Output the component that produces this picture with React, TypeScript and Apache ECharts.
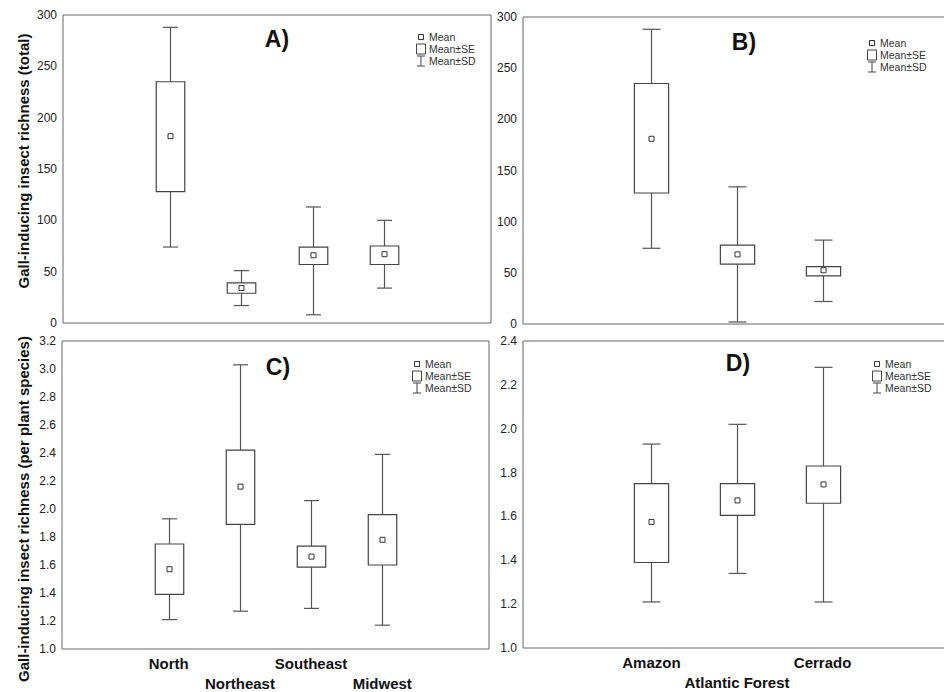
import React, { useEffect, useRef } from "react";
import * as echarts from "echarts";

// Categories (blank slots pad the category axes like the original figure)
const regionCats = ["", "North", "Northeast", "Southeast", "Midwest", ""];
const biomeCats = ["", "Amazon", "Atlantic Forest", "Cerrado", ""];

// Each row: [mean - SD, mean - SE, mean, mean + SE, mean + SD]
const totalByRegion = [
  [74, 128, 182, 235, 288],
  [17, 29, 34, 39, 51],
  [8, 57, 66, 74, 113],
  [34, 57, 67, 75, 100],
];
const totalByBiome = [
  [74, 128, 181, 235, 288],
  [2, 58.5, 68, 77, 134],
  [22, 47, 52.5, 56, 82],
];
const perPlantByRegion = [
  [1.21, 1.39, 1.57, 1.75, 1.93],
  [1.27, 1.89, 2.16, 2.42, 3.03],
  [1.29, 1.585, 1.66, 1.735, 2.06],
  [1.17, 1.6, 1.78, 1.96, 2.39],
];
const perPlantByBiome = [
  [1.21, 1.39, 1.575, 1.75, 1.93],
  [1.34, 1.605, 1.673, 1.75, 2.02],
  [1.21, 1.66, 1.746, 1.83, 2.28],
];

const panelLabels = ["A)", "B)", "C)", "D)"];
const legendTexts = ["Mean", "Mean±SE", "Mean±SD"];
const yTitleTotal = "Gall-inducing insect richness (total)";
const yTitlePerPlant = "Gall-inducing insect richness (per plant species)";

const FONT = "'Liberation Sans', Arial, sans-serif";
const LINE = "#555";

function renderBox(params: any, api: any) {
  const x = api.value(0);
  const pSdLo = api.coord([x, api.value(1)]);
  const ySeLo = api.coord([x, api.value(2)])[1];
  const yMean = api.coord([x, api.value(3)])[1];
  const ySeHi = api.coord([x, api.value(4)])[1];
  const ySdHi = api.coord([x, api.value(5)])[1];
  const cx = Math.round(pSdLo[0]) + 0.5;
  const ySdLo = pSdLo[1];
  const slot = api.size([1, 0])[0];
  const bw = slot * 0.4;
  const cw = slot * 0.21;
  const ls = { stroke: LINE, lineWidth: 1.2 };
  return {
    type: "group",
    children: [
      { type: "line", shape: { x1: cx, y1: ySdHi, x2: cx, y2: ySeHi }, style: ls },
      { type: "line", shape: { x1: cx, y1: ySeLo, x2: cx, y2: ySdLo }, style: ls },
      { type: "line", shape: { x1: cx - cw / 2, y1: ySdHi, x2: cx + cw / 2, y2: ySdHi }, style: ls },
      { type: "line", shape: { x1: cx - cw / 2, y1: ySdLo, x2: cx + cw / 2, y2: ySdLo }, style: ls },
      {
        type: "rect",
        shape: { x: cx - bw / 2, y: ySeHi, width: bw, height: ySeLo - ySeHi },
        style: { fill: "#fff", stroke: "#444", lineWidth: 1.2 },
      },
      {
        type: "rect",
        shape: { x: cx - 2.5, y: yMean - 2.5, width: 5, height: 5 },
        style: { fill: "#fff", stroke: "#333", lineWidth: 1 },
      },
    ],
  };
}

function toSeriesData(rows: number[][]) {
  return rows.map((r, i) => [i + 1, ...r]);
}

function legend(mx: number, my: number) {
  const tx = mx + 8;
  const ts = { fill: "#333", font: `10.5px ${FONT}`, textVerticalAlign: "middle" };
  return [
    { type: "rect", shape: { x: mx - 2.5, y: my - 2.5, width: 5, height: 5 }, style: { fill: "#fff", stroke: "#333", lineWidth: 1 } },
    { type: "text", x: tx, y: my, style: { ...ts, text: legendTexts[0] } },
    { type: "rect", shape: { x: mx - 4.5, y: my + 7, width: 9, height: 10 }, style: { fill: "#fff", stroke: "#444", lineWidth: 1 } },
    { type: "text", x: tx, y: my + 12, style: { ...ts, text: legendTexts[1] } },
    { type: "line", shape: { x1: mx, y1: my + 19, x2: mx, y2: my + 29 }, style: { stroke: "#444", lineWidth: 1 } },
    { type: "line", shape: { x1: mx - 4, y1: my + 19, x2: mx + 4, y2: my + 19 }, style: { stroke: "#444", lineWidth: 1 } },
    { type: "line", shape: { x1: mx - 4, y1: my + 29, x2: mx + 4, y2: my + 29 }, style: { stroke: "#444", lineWidth: 1 } },
    { type: "text", x: tx, y: my + 24, style: { ...ts, text: legendTexts[2] } },
  ];
}

export default function App() {
  const ref = useRef<HTMLDivElement>(null);
  useEffect(() => {
    if (!ref.current) return;
    const chart = echarts.init(ref.current, null, { renderer: "svg" });
    const grids = [
      { left: 63, top: 15, width: 428, height: 308 },
      { left: 523, top: 17, width: 428, height: 307 },
      { left: 62, top: 341, width: 427, height: 308 },
      { left: 523, top: 341, width: 428, height: 307 },
    ].map((g) => ({
      ...g,
      show: true,
      borderColor: "#666",
      borderWidth: 1,
      backgroundColor: "transparent",
      containLabel: false,
      outerBoundsMode: "none",
    }));

    const catLabel = {
      show: true,
      interval: 0,
      margin: 4,
      fontFamily: FONT,
      fontSize: 15,
      fontWeight: "bold",
      color: "#111",
      lineHeight: 20,
      formatter: (v: string, i: number) => (i % 2 === 0 ? "\n" + v : v),
    };
    const mkX = (cats: string[], idx: number, labels: boolean) => ({
      type: "category",
      gridIndex: idx,
      data: cats,
      boundaryGap: true,
      axisLine: { show: false },
      axisTick: { show: false },
      splitLine: { show: false },
      axisLabel: labels ? catLabel : { show: false },
    });
    const mkY = (idx: number, min: number, max: number, interval: number, dec: number) => ({
      type: "value",
      gridIndex: idx,
      min,
      max,
      interval,
      axisLine: { show: false },
      axisTick: { show: false },
      splitLine: { show: false },
      axisLabel: {
        margin: 6,
        fontFamily: FONT,
        fontSize: 12,
        color: "#222",
        formatter: (v: number) => v.toFixed(dec),
      },
    });

    const series = [totalByRegion, totalByBiome, perPlantByRegion, perPlantByBiome].map((rows, i) => ({
      type: "custom",
      xAxisIndex: i,
      yAxisIndex: i,
      renderItem: renderBox,
      encode: { x: 0, y: [1, 2, 3, 4, 5] },
      data: toSeriesData(rows),
      clip: false,
    }));

    const labelPos = [
      [277, 39],
      [744, 42],
      [278, 367],
      [738, 363],
    ];
    const legendPos = [
      [421, 37],
      [872, 43],
      [417, 364],
      [877, 364],
    ];
    const graphics: any[] = [];
    labelPos.forEach(([x, y], i) => {
      graphics.push({
        type: "text",
        x,
        y,
        style: {
          text: panelLabels[i],
          font: `bold 23px ${FONT}`,
          fill: "#111",
          textAlign: "center",
          textVerticalAlign: "middle",
        },
      });
    });
    legendPos.forEach(([x, y]) => graphics.push(...legend(x, y)));
    graphics.push({
      type: "text",
      x: 23,
      y: 161,
      rotation: Math.PI / 2,
      style: { text: yTitleTotal, font: `bold 15px ${FONT}`, fill: "#111", textAlign: "center", textVerticalAlign: "middle" },
    });
    graphics.push({
      type: "text",
      x: 23,
      y: 509,
      rotation: Math.PI / 2,
      style: { text: yTitlePerPlant, font: `bold 15px ${FONT}`, fill: "#111", textAlign: "center", textVerticalAlign: "middle" },
    });

    chart.setOption({
      animation: false,
      backgroundColor: "#fff",
      grid: grids,
      xAxis: [mkX(regionCats, 0, false), mkX(biomeCats, 1, false), mkX(regionCats, 2, true), mkX(biomeCats, 3, true)],
      yAxis: [mkY(0, 0, 300, 50, 0), mkY(1, 0, 300, 50, 0), mkY(2, 1.0, 3.2, 0.2, 1), mkY(3, 1.0, 2.4, 0.2, 1)],
      series,
      graphic: graphics,
    });
    return () => chart.dispose();
  }, []);
  return (
    <div
      ref={ref}
      style={{ position: "absolute", left: 0, top: 0, width: 944, height: 692, background: "#fff" }}
    />
  );
}
